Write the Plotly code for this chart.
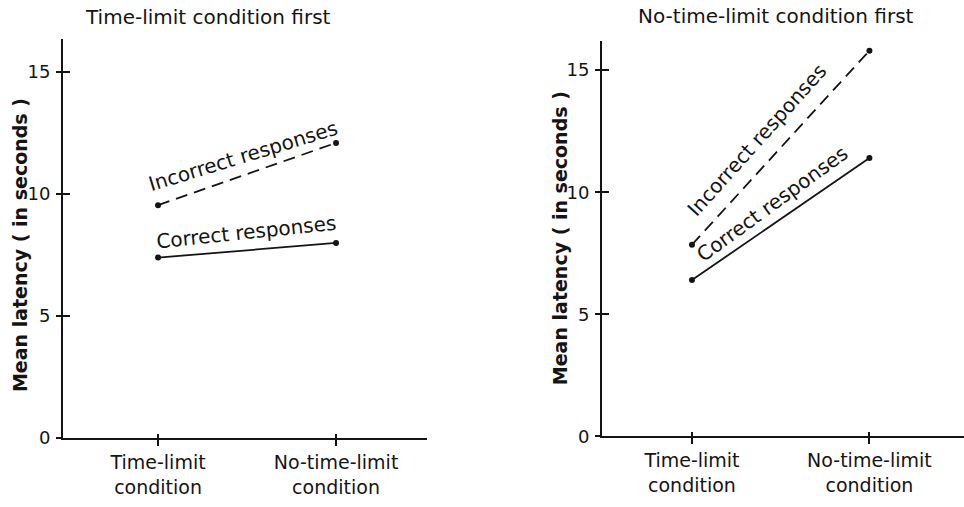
import plotly.graph_objects as go

# ---- data ----
conditions = ["Time-limit<br>condition", "No-time-limit<br>condition"]
panel_titles = ["Time-limit condition first", "No-time-limit condition first"]
y_label = "Mean latency ( in seconds )"
y_ticks = [0, 5, 10, 15]

tl_first_correct = [7.4, 8.0]
tl_first_incorrect = [9.55, 12.1]
ntl_first_correct = [6.4, 11.4]
ntl_first_incorrect = [7.85, 15.8]

series_labels = ["Incorrect responses", "Correct responses"]

W, H = 964, 507
INK = "#141414"
FONT = "DejaVu Sans"


def px(x):
    return x / W


def py(y):
    return 1 - y / H


fig = go.Figure()

line_solid = dict(color=INK, width=1.8)
line_dash = dict(color=INK, width=1.8, dash="12px,7px")
mk = dict(color=INK, size=6)

# left panel
fig.add_trace(go.Scatter(x=conditions, y=tl_first_incorrect, mode="lines+markers",
                         line=line_dash, marker=mk, xaxis="x", yaxis="y",
                         name=series_labels[0], showlegend=False))
fig.add_trace(go.Scatter(x=conditions, y=tl_first_correct, mode="lines+markers",
                         line=line_solid, marker=mk, xaxis="x", yaxis="y",
                         name=series_labels[1], showlegend=False))
# right panel
fig.add_trace(go.Scatter(x=conditions, y=ntl_first_incorrect, mode="lines+markers",
                         line=line_dash, marker=mk, xaxis="x2", yaxis="y2",
                         name=series_labels[0], showlegend=False))
fig.add_trace(go.Scatter(x=conditions, y=ntl_first_correct, mode="lines+markers",
                         line=line_solid, marker=mk, xaxis="x2", yaxis="y2",
                         name=series_labels[1], showlegend=False))
# invisible traces for overlay axes (inner half of cross ticks)
fig.add_trace(go.Scatter(x=conditions, y=tl_first_correct, mode="markers",
                         marker=dict(opacity=0), xaxis="x3", yaxis="y3",
                         hoverinfo="skip", showlegend=False))
fig.add_trace(go.Scatter(x=conditions, y=ntl_first_correct, mode="markers",
                         marker=dict(opacity=0), xaxis="x4", yaxis="y4",
                         hoverinfo="skip", showlegend=False))

left_xdom = [px(63), px(427)]
right_xdom = [px(602), 1.0]
left_ydom = [py(447), py(40)]
right_ydom = [py(445), py(41.7)]
left_xrange = [-0.534, 1.511]
right_xrange = [-0.507, 1.533]
left_yrange = [0, 16.35]
right_yrange = [0, 16.2]

tickfont = dict(family=FONT, size=18, color=INK)
xtickfont = dict(family=FONT, size=19, color=INK)

common_x = dict(type="category", showline=True, linecolor=INK, linewidth=2,
                ticks="outside", ticklen=6, tickwidth=2, tickcolor=INK,
                showgrid=False, zeroline=False, tickfont=xtickfont, fixedrange=True)
common_y = dict(showline=True, linecolor=INK, linewidth=2,
                ticks="outside", ticklen=5, tickwidth=2, tickcolor=INK,
                tickvals=y_ticks, showgrid=False, zeroline=False,
                tickfont=tickfont, ticklabelstandoff=2, fixedrange=True)
over_x = dict(type="category", showline=False, ticks="inside", ticklen=4,
              tickwidth=2, tickcolor=INK, showticklabels=False,
              showgrid=False, zeroline=False)
over_y = dict(showline=False, ticks="inside", ticklen=7, tickwidth=2,
              tickcolor=INK, showticklabels=False, tickvals=y_ticks,
              showgrid=False, zeroline=False)

fig.update_layout(
    width=W, height=H, autosize=False,
    margin=dict(l=0, r=0, t=0, b=0),
    paper_bgcolor="white", plot_bgcolor="rgba(0,0,0,0)",
    xaxis=dict(domain=left_xdom, range=left_xrange, anchor="y", **common_x),
    yaxis=dict(domain=left_ydom, range=left_yrange, anchor="x", **common_y),
    xaxis2=dict(domain=right_xdom, range=right_xrange, anchor="y2", **common_x),
    yaxis2=dict(domain=right_ydom, range=right_yrange, anchor="x2", **common_y),
    xaxis3=dict(overlaying="x", anchor="y3", range=left_xrange, **over_x),
    yaxis3=dict(overlaying="y", anchor="x3", range=left_yrange, **over_y),
    xaxis4=dict(overlaying="x2", anchor="y4", range=right_xrange, **over_x),
    yaxis4=dict(overlaying="y2", anchor="x4", range=right_yrange, **over_y),
    showlegend=False,
)

ann_font = dict(family=FONT, size=20, color=INK)
title_font = dict(family=FONT, size=20, color=INK)
ylab_font = dict(family=FONT, size=19, color=INK)

annotations = [
    # panel titles
    dict(text=panel_titles[0], x=px(208), y=py(17), font=title_font),
    dict(text=panel_titles[1], x=px(776), y=py(16), font=title_font),
    # y axis labels
    dict(text="<b>" + y_label + "</b>", x=px(20), y=py(250), textangle=-90, font=ylab_font),
    dict(text="<b>" + y_label + "</b>", x=px(560), y=py(243), textangle=-90, font=ylab_font),
    # line labels, left panel
    dict(text=series_labels[0], x=px(243), y=py(159), textangle=-17, font=ann_font),
    dict(text=series_labels[1], x=px(247), y=py(237), textangle=-6, font=ann_font),
    # line labels, right panel
    dict(text=series_labels[0], x=px(757), y=py(143), textangle=-48, font=ann_font),
    dict(text=series_labels[1], x=px(772), y=py(208), textangle=-36, font=ann_font),
]
for a in annotations:
    a.update(xref="paper", yref="paper", showarrow=False,
             xanchor="center", yanchor="middle")
fig.update_layout(annotations=annotations)

fig.write_html("out.html")
